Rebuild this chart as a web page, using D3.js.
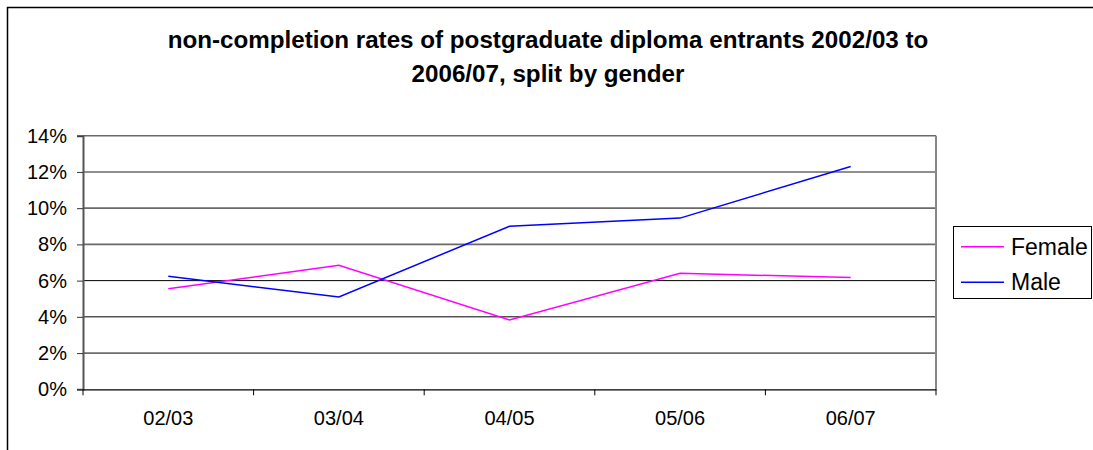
<!DOCTYPE html>
<html>
<head>
<meta charset="utf-8">
<script src="https://cdn.jsdelivr.net/npm/d3@7"></script>
<style>
html,body{margin:0;padding:0;background:#fff;}
svg{display:block;font-family:"Liberation Sans",Arial,Helvetica,sans-serif;}
</style>
</head>
<body>
<svg id="chart" width="1093" height="450"></svg>
<script>
const categories = ["02/03", "03/04", "04/05", "05/06", "06/07"];
const female = [5.55, 6.85, 3.83, 6.4, 6.17];
const male = [6.24, 5.1, 9.0, 9.45, 12.3];
const yTicks = [0, 2, 4, 6, 8, 10, 12, 14];
const seriesNames = ["Female", "Male"];
const seriesColors = ["#ff00ff", "#0000ff"];
const titleLines = ["non-completion rates of postgraduate diploma entrants 2002/03 to", "2006/07, split by gender"];

const svg = d3.select("#chart");
const plot = {left: 83, right: 936, top: 135.7, bottom: 389.3};

// outer frame
svg.append("rect").attr("x", 7.5).attr("y", 7.5).attr("width", 1200).attr("height", 600)
  .attr("fill", "#fff").attr("stroke", "#000").attr("stroke-width", 1.5);

// title
svg.append("g").selectAll("text").data(titleLines).join("text")
  .attr("x", 548).attr("y", (d, i) => 47.5 + i * 34)
  .attr("text-anchor", "middle").attr("font-weight", "bold").attr("font-size", 24.2)
  .attr("fill", "#000").text(d => d);

const x = d3.scaleBand().domain(categories).range([plot.left, plot.right]).padding(0);
const y = d3.scaleLinear().domain([0, 14]).range([plot.bottom, plot.top]);

// gridlines
svg.append("g").selectAll("line").data(yTicks.filter(d => d > 0)).join("line")
  .attr("x1", plot.left).attr("x2", plot.right)
  .attr("y1", d => y(d)).attr("y2", d => y(d))
  .attr("stroke", d => d >= 8 ? "#6a6a6a" : "#000").attr("stroke-width", d => d >= 8 ? 1.6 : 1);

// right border of plot
svg.append("line").attr("x1", plot.right).attr("x2", plot.right)
  .attr("y1", plot.top).attr("y2", plot.bottom)
  .attr("stroke", "#888").attr("stroke-width", 2);

// y axis
const yAxis = d3.axisLeft(y).tickValues(yTicks).tickFormat(d => d + "%").tickSize(6).tickPadding(10);
const gy = svg.append("g").attr("transform", `translate(${plot.left},0)`).call(yAxis);
gy.select(".domain").attr("stroke", "#555").attr("stroke-width", 2);
gy.selectAll(".tick line").attr("stroke", "#333");
gy.selectAll("text").attr("font-size", 20).attr("font-family", "Liberation Sans, Arial, sans-serif").attr("fill", "#000");

// x axis
const xAxis = d3.axisBottom(x).tickSize(0).tickPadding(22);
const gx = svg.append("g").attr("transform", `translate(0,${plot.bottom})`).call(xAxis);
gx.select(".domain").attr("stroke", "#000").attr("stroke-width", 1.2);
gx.selectAll("text").attr("font-size", 20).attr("font-family", "Liberation Sans, Arial, sans-serif").attr("fill", "#000");
// x ticks at category boundaries
const bounds = categories.map(c => x(c)).concat([x(categories[categories.length - 1]) + x.bandwidth()]);
svg.append("g").selectAll("line").data(bounds).join("line")
  .attr("x1", d => d).attr("x2", d => d)
  .attr("y1", plot.bottom).attr("y2", plot.bottom + 6)
  .attr("stroke", "#000").attr("stroke-width", 1);

// lines
const line = d3.line().x((d, i) => x(categories[i]) + x.bandwidth() / 2).y(d => y(d));
[female, male].forEach((s, i) => {
  svg.append("path").datum(s).attr("d", line)
    .attr("fill", "none").attr("stroke", seriesColors[i]).attr("stroke-width", 1.5);
});

// legend
const lg = svg.append("g");
lg.append("rect").attr("x", 953.5).attr("y", 226.5).attr("width", 138).attr("height", 72)
  .attr("fill", "#fff").attr("stroke", "#000").attr("stroke-width", 1);
seriesNames.forEach((n, i) => {
  const yy = 246.7 + i * 35.6;
  lg.append("line").attr("x1", 961).attr("x2", 1004).attr("y1", yy).attr("y2", yy)
    .attr("stroke", seriesColors[i]).attr("stroke-width", 1.5);
  lg.append("text").attr("x", 1011).attr("y", yy + 8).attr("font-size", 23)
    .attr("fill", "#000").text(n);
});
</script>
</body>
</html>
